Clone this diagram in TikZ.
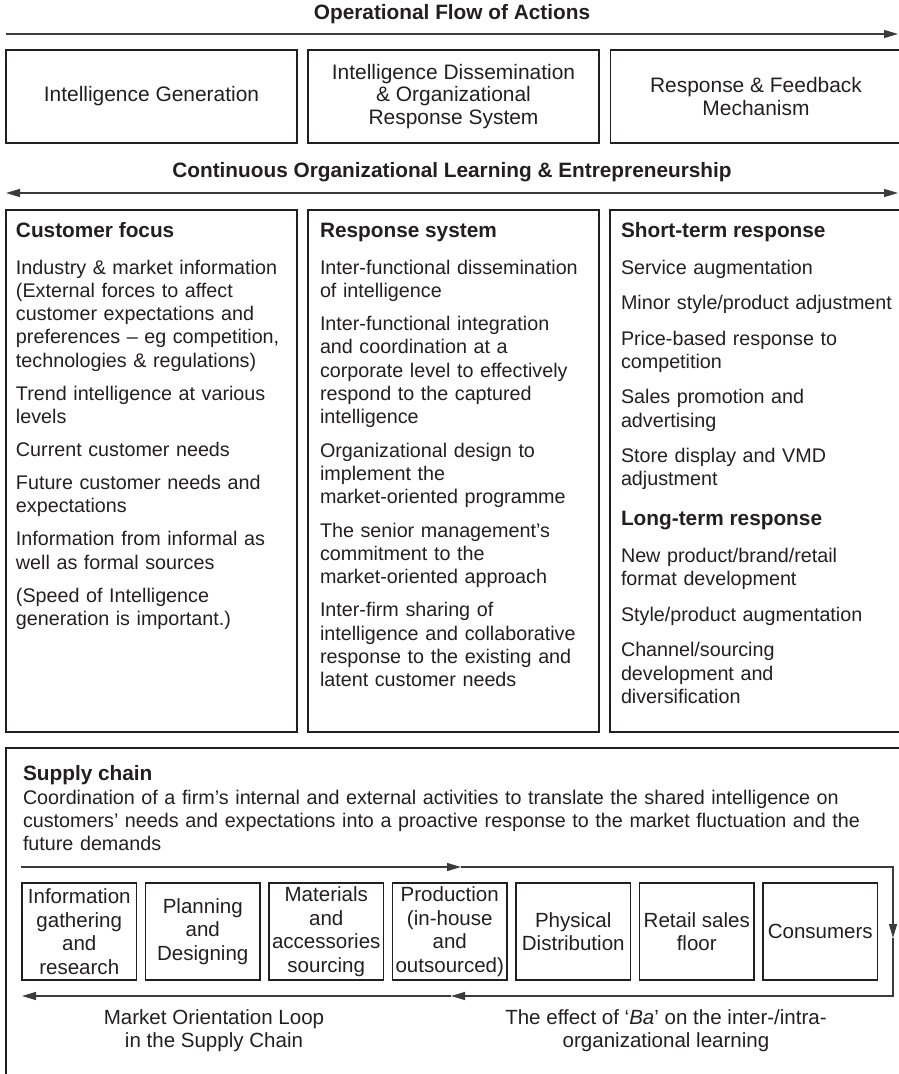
\documentclass[tikz,border=0pt]{standalone}
\usepackage{fontspec}
\setmainfont{Liberation Sans}
\usetikzlibrary{arrows.meta}
\definecolor{ink}{HTML}{231F20}
\begin{document}
\begin{tikzpicture}[x=0.75pt,y=-0.75pt,
  every node/.style={text=ink, inner sep=0pt, outer sep=0pt},
  frame/.style={draw=ink, line width=1.1pt},
  flow/.style={draw=ink!88, line width=1pt},
  tip/.style={-{Triangle[length=10.5pt,width=6pt]}},
  tips/.style={{Triangle[length=10.5pt,width=6pt]}-{Triangle[length=10.5pt,width=6pt]}},
  headline/.style={font=\bfseries\fontsize{15.6}{18}\selectfont},
  topbox/.style={frame, minimum width=218.25pt, minimum height=69.75pt, align=center,
    font=\fontsize{15.7}{16.9}\selectfont},
  colbox/.style={frame, minimum width=218.25pt, minimum height=391.5pt},
  colhead/.style={anchor=base west, font=\bfseries\fontsize{15.6}{18}\selectfont},
  colbody/.style={anchor=base west, align=left, text width=215pt,
    font=\fontsize{14.8}{17.475}\selectfont},
  stepbox/.style={frame, minimum width=85.9pt, minimum height=72.75pt, align=center,
    font=\fontsize{15.4}{17.6}\selectfont},
  looplabel/.style={align=center, font=\fontsize{15.4}{17.25}\selectfont}
]
\useasboundingbox (0,0) rectangle (899,1074);
\clip (0,0) rectangle (899,1074);

% ---- Operational flow
\node[headline] (t1) at (452,14.5) {Operational Flow of Actions};
\coordinate (a1s) at (6,34);
\coordinate (a1e) at (898,34);
\draw[flow,tip] (a1s) -- (a1e);

\node[topbox] (g1) at (151.5,96.5) {Intelligence Generation};
\node[topbox] (g2) at (453.5,96.5) {Intelligence Dissemination\\ \& Organizational\\ Response System};
\node[topbox] (g3) at (756,96.5) {Response \& Feedback\\ Mechanism};

% ---- Continuous learning
\node[headline] (t2) at (452,172) {Continuous Organizational Learning \& Entrepreneurship};
\coordinate (a2s) at (6,193);
\coordinate (a2e) at (898,193);
\draw[flow,tips] (a2s) -- (a2e);

% ---- Columns
\node[colbox] (c1) at (151.5,471) {};
\node[colbox] (c2) at (453.5,471) {};
\node[colbox, minimum width=219pt] (c3) at (756,471) {};

\node[colhead] (h1) at (16,237) {Customer focus};
\node[colbody] (b1) at (16,274) {Industry \& market information\\
(External forces to affect\\
customer expectations and\\
preferences – eg competition,\\
technologies \& regulations)\\[7.3pt]
Trend intelligence at various\\
levels\\[7.3pt]
Current customer needs\\[7.3pt]
Future customer needs and\\
expectations\\[7.3pt]
Information from informal as\\
well as formal sources\\[7.3pt]
(Speed of Intelligence\\
generation is important.)};

\node[colhead] (h2) at (320,237) {Response system};
\node[colbody] (b2) at (320,274) {Inter-functional dissemination\\
of intelligence\\[7.5pt]
Inter-functional integration\\
and coordination at a\\
corporate level to effectively\\
respond to the captured\\
intelligence\\[7.5pt]
Organizational design to\\
implement the\\
market-oriented programme\\[7.5pt]
The senior management’s\\
commitment to the\\
market-oriented approach\\[7.5pt]
Inter-firm sharing of\\
intelligence and collaborative\\
response to the existing and\\
latent customer needs};

\node[colhead] (h3) at (621,237) {Short-term response};
\node[colbody] (b3) at (621,274) {Service augmentation\\[9.15pt]
Minor style/product adjustment\\[9.15pt]
Price-based response to\\
competition\\[9.15pt]
Sales promotion and\\
advertising\\[9.15pt]
Store display and VMD\\
adjustment};
\node[colhead] (h4) at (621,525.4) {Long-term response};
\node[colbody] (b4) at (621,562.4) {New product/brand/retail\\
format development\\[9.15pt]
Style/product augmentation\\[9.15pt]
Channel/sourcing\\
development and\\
diversification};

% ---- Supply chain
\coordinate (sc1) at (905,748);
\coordinate (sc2) at (6,748);
\coordinate (sc3) at (6,1080);
\draw[frame] (sc1) -- (sc2) -- (sc3);
\node[colhead] (sh) at (23,780) {Supply chain};
\node[anchor=base west, align=left, text width=660pt, font=\fontsize{14.8}{17.6}\selectfont] (sp) at (23,804)
{Coordination of a firm’s internal and external activities to translate the shared intelligence on\\
customers’ needs and expectations into a proactive response to the market fluctuation and the\\
future demands};

\node[stepbox] (s1) at (79.25,931.5) {Information\\ gathering\\ and\\ research};
\node[stepbox] (s2) at (202.75,931.5) {Planning\\ and\\ Designing};
\node[stepbox] (s3) at (326.25,931.5) {Materials\\ and\\ accessories\\ sourcing};
\node[stepbox] (s4) at (449.75,931.5) {Production\\ (in-house\\ and\\ outsourced)};
\node[stepbox] (s5) at (573.25,931.5) {Physical\\ Distribution};
\node[stepbox] (s6) at (696.75,931.5) {Retail sales\\ floor};
\node[stepbox] (s7) at (820.25,931.5) {Consumers};

% ---- Loop
\coordinate (L1) at (21,867);
\coordinate (M1) at (461,867);
\coordinate (R1) at (893,867);
\coordinate (RM) at (893,938);
\coordinate (R2) at (893,996);
\coordinate (M2) at (451,996);
\coordinate (L2) at (22,996);
\draw[flow,tip] (L1) -- (M1);
\draw[flow,tip] (M1) -- (R1) -- (RM);
\draw[flow,tip] (RM) -- (R2) -- (M2);
\draw[flow,tip] (M2) -- (L2);

\node[looplabel] (l1) at (214,1031) {Market Orientation Loop\\ in the Supply Chain};
\node[looplabel] (l2) at (666,1031) {The effect of ‘\textit{Ba}’ on the inter-/intra-\\ organizational learning};
\end{tikzpicture}
\end{document}
